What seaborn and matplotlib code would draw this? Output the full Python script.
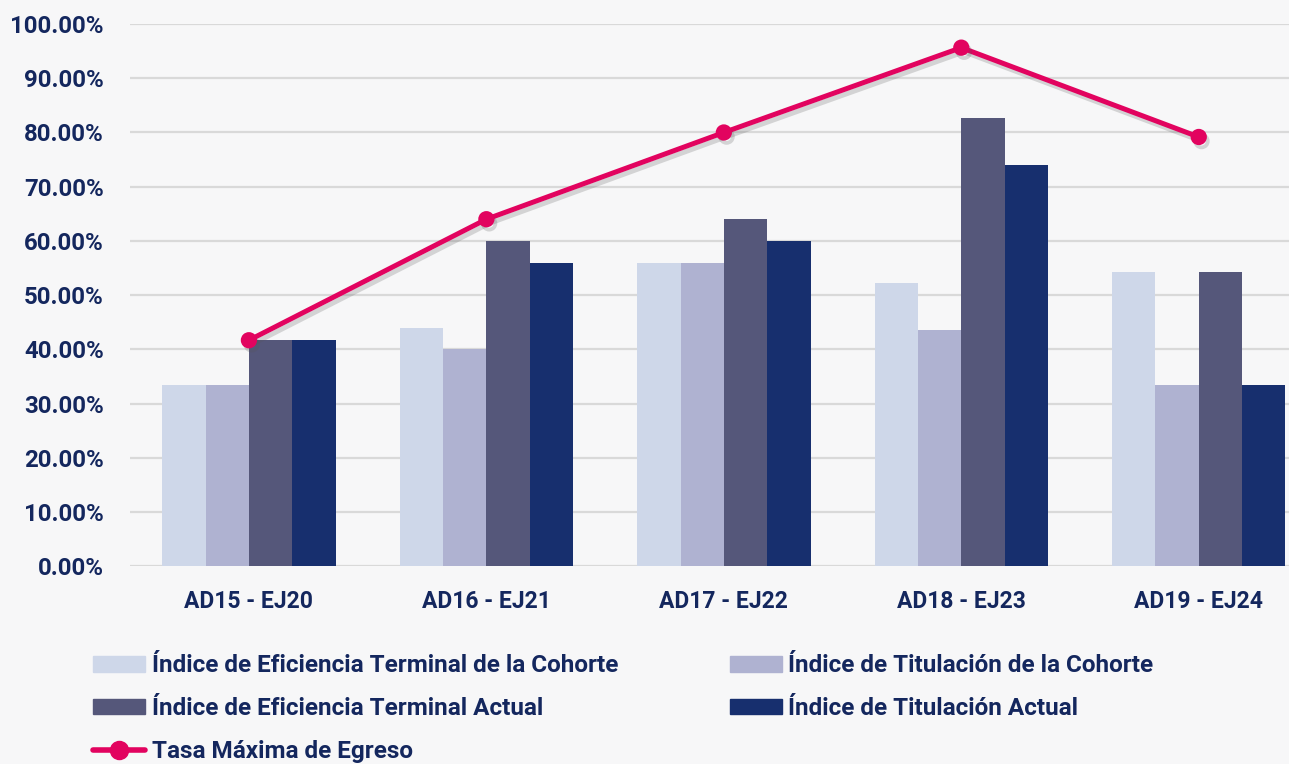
import pandas as pd
import numpy as np
import matplotlib.pyplot as plt
import matplotlib.patheffects as pe
from matplotlib.patches import Patch
from matplotlib.lines import Line2D
import seaborn as sns

# ---------------------------------------------------------------
# data (in %)
# ---------------------------------------------------------------
cohortes = ["AD15 - EJ20", "AD16 - EJ21", "AD17 - EJ22", "AD18 - EJ23", "AD19 - EJ24"]
ef_terminal_cohorte = [33.33, 44.00, 56.00, 52.17, 54.17]
titulacion_cohorte = [33.33, 40.00, 56.00, 43.48, 33.33]
ef_terminal_actual = [41.67, 60.00, 64.00, 82.61, 54.17]
titulacion_actual = [41.67, 56.00, 60.00, 73.91, 33.33]
tasa_maxima_egreso = [41.67, 64.00, 80.00, 95.65, 79.17]

series_names = [
    "Índice de Eficiencia Terminal de la Cohorte",
    "Índice de Titulación de la Cohorte",
    "Índice de Eficiencia Terminal Actual",
    "Índice de Titulación Actual",
]
line_name = "Tasa Máxima de Egreso"
bar_colors = ["#CED7E9", "#AFB2D1", "#55577A", "#172F6E"]
line_color = "#E2035F"
text_color = "#14275E"

df = pd.DataFrame({
    "cohorte": cohortes * 4,
    "serie": np.repeat(series_names, len(cohortes)),
    "valor": ef_terminal_cohorte + titulacion_cohorte + ef_terminal_actual + titulacion_actual,
})

# ---------------------------------------------------------------
# plot
# ---------------------------------------------------------------
sns.set_theme(style="white")
plt.rcParams["font.family"] = ["Roboto", "DejaVu Sans"]

fig = plt.figure(figsize=(12.89, 7.64), dpi=100)
fig.patch.set_facecolor("#F7F7F8")
ax = fig.add_axes([0.101, 0.259, 0.899, 0.7095])
ax.set_facecolor("none")

sns.barplot(
    data=df, x="cohorte", y="valor", hue="serie",
    hue_order=series_names, palette=bar_colors,
    width=0.73, saturation=1, linewidth=0, legend=False, ax=ax, zorder=2,
)

sns.pointplot(
    x=cohortes, y=tasa_maxima_egreso, color=line_color,
    markers="o", markersize=9, linewidth=3.6, ax=ax,
)
for ln in ax.lines:
    ln.set_zorder(4)
    ln.set_path_effects([pe.SimpleLineShadow(offset=(2, -3), alpha=0.22, shadow_color="#555"), pe.Normal()])

ax.set_ylim(0, 100)
ax.set_xlim(-0.5, 4.38)
ax.set_yticks(np.arange(0, 101, 10))
ax.set_yticklabels([f"{v:.2f}%" for v in range(0, 101, 10)])
ax.yaxis.grid(True, color="#D9D9D9", linewidth=1.6, zorder=0)
ax.set_axisbelow(True)
for s in ax.spines.values():
    s.set_visible(False)
ax.tick_params(axis="both", length=0, labelcolor=text_color)
ax.tick_params(axis="y", labelsize=17.3, pad=19)
ax.tick_params(axis="x", labelsize=16.5, pad=17.5)
for lbl in ax.get_xticklabels() + ax.get_yticklabels():
    lbl.set_fontweight("bold")
ax.set_xlabel("")
ax.set_ylabel("")

handles = [
    Patch(color=bar_colors[0], label=series_names[0]),
    Patch(color=bar_colors[2], label=series_names[2]),
    Line2D([], [], color=line_color, lw=4, marker="o", markersize=13, label=line_name),
    Patch(color=bar_colors[1], label=series_names[1]),
    Patch(color=bar_colors[3], label=series_names[3]),
]
fig.legend(
    handles=handles, loc="upper left", bbox_to_anchor=(0.0555, 0.172),
    ncol=2, frameon=False, handlelength=2.14, handleheight=0.62, handletextpad=0.25,
    columnspacing=4.6, labelspacing=0.81,
    prop={"size": 17.5, "weight": "bold"}, labelcolor=text_color,
)

fig.savefig("out.png", dpi=100, facecolor=fig.get_facecolor())
